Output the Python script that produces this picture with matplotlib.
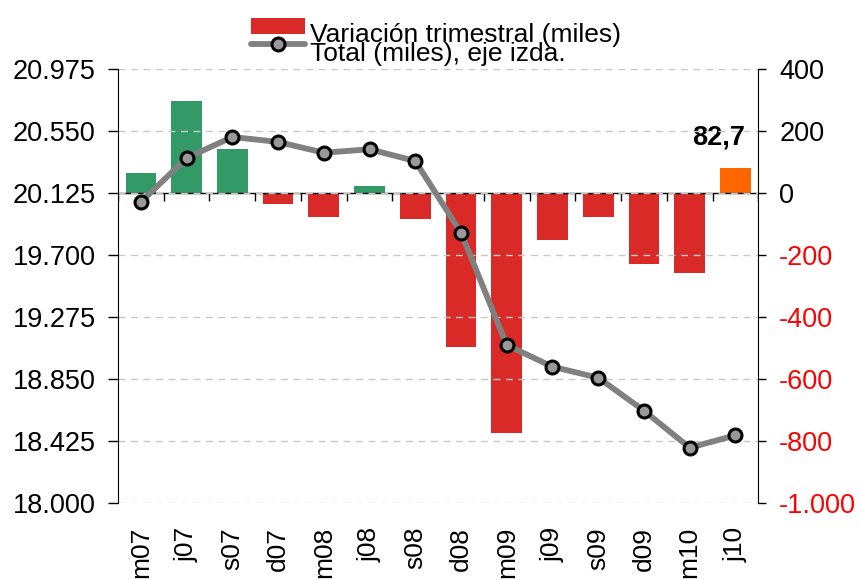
import matplotlib
matplotlib.use("Agg")
import matplotlib.pyplot as plt
from matplotlib.ticker import FuncFormatter
from matplotlib.patches import Patch, Rectangle
from matplotlib.lines import Line2D
from matplotlib.legend_handler import HandlerPatch, HandlerLine2D
import numpy as np

plt.rcParams['font.family'] = ['Liberation Sans', 'DejaVu Sans']

categories = ["m07", "j07", "s07", "d07", "m08", "j08", "s08", "d08",
              "m09", "j09", "s09", "d09", "m10", "j10"]
variacion = [65, 299, 143, -35, -75, 25, -82, -495, -772, -151, -75, -227, -256, 82.7]
total = [20065, 20367, 20511, 20477, 20403, 20427, 20346, 19855,
         19085, 18936, 18861, 18635, 18381, 18466]
left_ticks = [18000, 18425, 18850, 19275, 19700, 20125, 20550, 20975]
right_ticks = [-1000, -800, -600, -400, -200, 0, 200, 400]
label_bar = "Variación trimestral (miles)"
label_line = "Total (miles), eje izda."
last_label = "82,7"

GREEN = "#339966"
RED = "#D92A27"
ORANGE = "#FF6600"
LINE_C = "#808080"
MARK_C = "#999999"
FS = 19
TFS = 19.5

def fmt_thousands(v, pos=None):
    s = f"{abs(int(round(v))):,}".replace(",", ".")
    return ("-" if v < 0 else "") + s

fig = plt.figure(figsize=(8.61, 5.80), dpi=100)
ax = fig.add_axes([118/861, 1-503.3/580, (758.3-118)/861, (503.3-69.3)/580])
ax2 = ax.twinx()
ax.set_zorder(ax2.get_zorder() + 1)
ax.patch.set_visible(False)

x = np.arange(len(categories))
colors = []
for i, v in enumerate(variacion):
    if i == len(variacion) - 1:
        colors.append(ORANGE)
    elif v >= 0:
        colors.append(GREEN)
    else:
        colors.append(RED)
ax2.bar(x, variacion, width=0.67, color=colors, zorder=2)
ax2.axhline(0, color="black", lw=1.0, zorder=3)
bounds = np.arange(len(categories) + 1) - 0.5
ax2.plot(bounds, np.zeros_like(bounds), linestyle="none", marker=3,
         markersize=6, color="black", mew=1.0, zorder=3)
ax2.set_ylim(right_ticks[0], right_ticks[-1])
ax2.set_yticks(right_ticks)
ax2.yaxis.set_major_formatter(FuncFormatter(fmt_thousands))
ax2.tick_params(axis="y", labelsize=TFS, length=6, width=1, direction="out", pad=9)
for lbl, v in zip(ax2.get_yticklabels(), right_ticks):
    lbl.set_color("#FF0000" if v < 0 else "black")

ax.plot(x, total, color=LINE_C, lw=4.2, marker="o", markersize=9.3,
        markerfacecolor=MARK_C, markeredgecolor="black", markeredgewidth=2.2,
        zorder=5, solid_capstyle="round")
ax.set_ylim(left_ticks[0], left_ticks[-1])
ax.set_yticks(left_ticks)
ax.yaxis.set_major_formatter(FuncFormatter(fmt_thousands))
ax.tick_params(axis="y", labelsize=TFS, length=7, width=1, direction="out", pad=9)
ax.set_xlim(-0.5, len(categories) - 0.5)
ax.set_xticks(x)
ax.set_xticklabels(categories, rotation=90, fontsize=FS)
ax.tick_params(axis="x", length=0, pad=17)

ax.yaxis.grid(True, color="#C8C8C8", linestyle=(0, (5, 4)), lw=1.0)
ax.set_axisbelow(True)
for a in (ax, ax2):
    a.spines["top"].set_visible(False)
    a.spines["bottom"].set_visible(False)
ax.spines["right"].set_visible(False)
ax2.spines["left"].set_visible(False)
ax.spines["left"].set_color("black")
ax2.spines["right"].set_color("black")

ax2.annotate(last_label, xy=(x[-1], variacion[-1]), xytext=(-12, 17),
             textcoords="offset points", ha="center", va="baseline",
             fontsize=TFS, fontweight="bold", zorder=6,
             bbox=dict(facecolor="white", edgecolor="none", pad=1))


def patch_func(legend, orig_handle, xdescent, ydescent, width, height, fontsize):
    return Rectangle((-xdescent, 0.318 * fontsize), width, 0.606 * fontsize)


class ShiftedLine(HandlerLine2D):
    def __init__(self, dy, **kw):
        super().__init__(**kw)
        self.dy = dy

    def create_artists(self, legend, orig_handle, xdescent, ydescent, width,
                       height, fontsize, trans):
        arts = super().create_artists(legend, orig_handle, xdescent, ydescent,
                                      width, height, fontsize, trans)
        for a in arts:
            a.set_ydata(np.full_like(np.asarray(a.get_xdata(), dtype=float),
                                     self.dy * fontsize))
        return arts


bar_handle = Patch(facecolor=RED, edgecolor="none")
line_handle = Line2D([0], [0], color=LINE_C, lw=4.2, marker="o", markersize=9.3,
                     markerfacecolor=MARK_C, markeredgecolor="black",
                     markeredgewidth=2.2, solid_capstyle="round")
fig.legend([bar_handle, line_handle], [label_bar, label_line], loc="upper left",
           bbox_to_anchor=(251/861, 1 - 23/580), frameon=False, fontsize=FS,
           borderpad=0, borderaxespad=0, handlelength=2.05, handletextpad=0.18,
           labelspacing=-0.18,
           handler_map={bar_handle: HandlerPatch(patch_func=patch_func),
                        line_handle: ShiftedLine(0.66)})

fig.savefig("out.png", dpi=100)
